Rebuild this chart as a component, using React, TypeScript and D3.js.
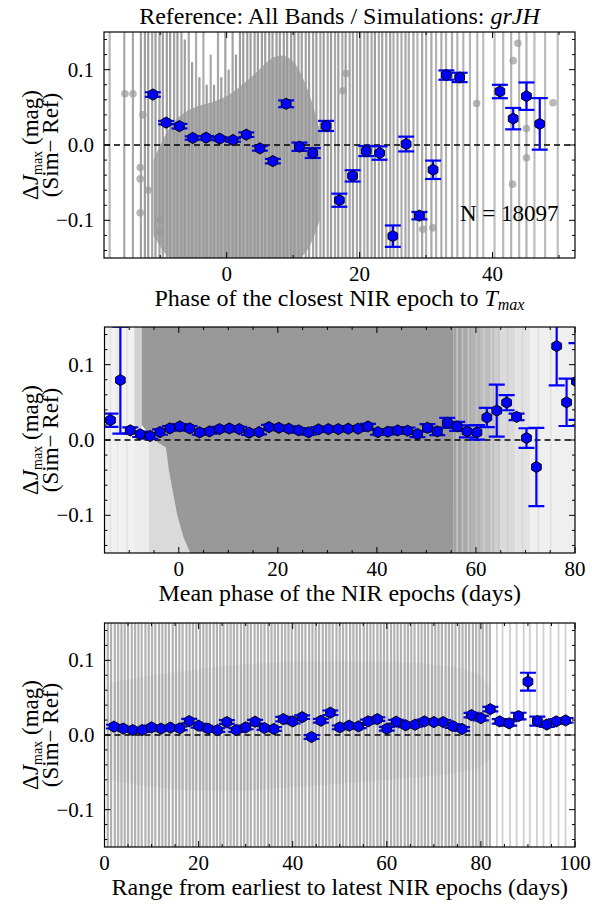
import React from 'react';
import * as d3 from 'd3';

const FONT = "'Liberation Serif', 'DejaVu Serif', serif";
const BLUE = '#0000ff';

// ---------- Panel 1: phase of closest NIR epoch ----------
const phaseX = [-11.1, -9.1, -7.1, -5.1, -3.1, -1.05, 0.95, 2.95, 5.0, 6.95, 8.95, 10.95, 12.95, 14.95, 16.95, 18.95, 21.0, 23.0, 25.0, 27.0, 29.0, 31.05, 33.05, 35.05, 41.1, 43.1, 45.1, 47.1];
const phaseY = [0.067, 0.0297, 0.025, 0.0093, 0.0097, 0.0084, 0.0066, 0.0137, -0.0045, -0.0214, 0.0547, -0.0023, -0.0107, 0.0253, -0.0733, -0.041, -0.008, -0.0107, -0.121, 0.0013, -0.0938, -0.0329, 0.0928, 0.0897, 0.071, 0.035, 0.0648, 0.028];
const phaseErr = [0.003, 0.0022, 0.003, 0.0022, 0.0022, 0.0022, 0.0022, 0.003, 0.003, 0.003, 0.0045, 0.0055, 0.0065, 0.0067, 0.0087, 0.0075, 0.0067, 0.0089, 0.0142, 0.0098, 0.0049, 0.0122, 0.0062, 0.0062, 0.0089, 0.0142, 0.0182, 0.0342];

// individual (gray) measurements, summarised as strands [x, top, opacity]
const phaseStrands: [number, number, number][] = [
  [-17.6, 0.2, 0.35], [-15.4, 0.2, 0.5], [-14.1, 0.2, 0.5], [-12.9, 0.2, 0.55], [-12.3, 0.2, 0.6],
  [-11.8, 0.2, 0.6], [-11.2, 0.2, 0.5], [-10.7, 0.2, 0.6], [-10.1, 0.2, 0.55], [-9.6, 0.2, 0.6],
  [-9.0, 0.2, 0.6], [-8.5, 0.2, 0.6], [-7.9, 0.2, 0.55], [-7.4, 0.2, 0.6], [-6.8, 0.2, 0.55],
  [-6.3, 0.14, 0.6], [-5.7, 0.2, 0.5], [-5.2, 0.11, 0.6], [-4.6, 0.2, 0.45], [-4.1, 0.09, 0.6],
  [-3.5, 0.2, 0.45], [-3.0, 0.08, 0.6], [-2.4, 0.12, 0.5], [-1.9, 0.08, 0.6], [-1.3, 0.2, 0.5],
  [-0.8, 0.09, 0.6], [-0.2, 0.2, 0.55], [0.3, 0.1, 0.6], [0.9, 0.2, 0.55], [1.4, 0.12, 0.6],
  [2.0, 0.2, 0.6], [2.5, 0.2, 0.6], [3.1, 0.2, 0.6], [3.6, 0.2, 0.6], [4.2, 0.2, 0.6],
  [4.7, 0.2, 0.6], [5.3, 0.2, 0.6], [5.8, 0.2, 0.6], [6.4, 0.2, 0.6], [6.9, 0.2, 0.6],
  [7.5, 0.2, 0.6], [8.0, 0.2, 0.6], [8.6, 0.2, 0.6], [9.1, 0.2, 0.6], [9.7, 0.2, 0.6],
  [10.2, 0.2, 0.6], [10.8, 0.2, 0.55], [11.3, 0.2, 0.6], [11.9, 0.2, 0.55], [12.4, 0.2, 0.6],
  [13.0, 0.2, 0.55], [13.5, 0.2, 0.6], [14.1, 0.2, 0.5], [14.6, 0.2, 0.6], [15.2, 0.2, 0.5],
  [15.7, 0.2, 0.6], [16.3, 0.2, 0.5], [16.8, 0.2, 0.6], [17.4, 0.2, 0.5], [17.9, 0.2, 0.6],
  [18.5, 0.2, 0.5], [19.0, 0.2, 0.55], [19.6, 0.2, 0.5], [20.1, 0.2, 0.6], [20.7, 0.2, 0.45],
  [21.2, 0.2, 0.55], [21.8, 0.2, 0.5], [22.3, 0.2, 0.6], [22.9, 0.2, 0.45], [23.4, 0.2, 0.55],
  [24.0, 0.2, 0.5], [24.6, 0.2, 0.55], [25.1, 0.2, 0.45], [25.7, 0.2, 0.5], [26.3, 0.2, 0.45],
  [26.9, 0.2, 0.5], [27.4, 0.2, 0.45], [28.1, 0.2, 0.5], [28.7, 0.2, 0.4], [29.4, 0.2, 0.5],
  [30.0, 0.2, 0.4], [30.8, 0.2, 0.5], [31.5, 0.2, 0.4], [32.3, 0.2, 0.45], [33.0, 0.2, 0.4],
  [33.9, 0.2, 0.45], [34.7, 0.2, 0.4], [35.6, 0.2, 0.4], [36.6, 0.2, 0.35], [37.7, 0.2, 0.35],
  [38.6, 0.2, 0.3], [40.3, 0.2, 0.3], [41.6, 0.2, 0.35], [42.8, 0.2, 0.4], [44.0, 0.2, 0.35],
  [45.1, 0.2, 0.4], [46.3, 0.2, 0.3], [47.9, 0.2, 0.3], [49.8, 0.2, 0.3],
];
// dense core of the gray cloud [x, low, high]
const phaseCore: [number, number, number][] = [
  [-11, -0.12, -0.02], [-9, -0.15, 0.02], [-7, -0.16, 0.04], [-5, -0.16, 0.05], [-3, -0.16, 0.055],
  [-1, -0.16, 0.06], [1, -0.16, 0.07], [3, -0.16, 0.085], [5, -0.16, 0.1], [7, -0.16, 0.12],
  [10, -0.16, 0.12], [12.5, -0.14, 0.07], [14, -0.1, 0.02],
];
const phaseDots: [number, number][] = [
  [-15.3, 0.068], [-14.1, 0.068], [-13, -0.03], [-13, -0.045], [-13, -0.09], [-10, -0.1], [-10, -0.115],
  [17.5, 0.072], [18, 0.095], [43.1, 0.112], [43.8, 0.135], [43, -0.052], [45.1, 0.022], [45.1, -0.017],
  [49.1, 0.056], [37.6, 0.055], [31, -0.11], [29.5, -0.112], [-12.6, 0.04], [-11.8, -0.06],
];

// ---------- Panel 2: mean phase ----------
const meanX = [-13.8, -11.8, -9.8, -7.8, -5.8, -3.8, -1.8, 0.2, 2.2, 4.2, 6.2, 8.2, 10.2, 12.2, 14.2, 16.2, 18.2, 20.2, 22.2, 24.2, 26.2, 28.2, 30.2, 32.2, 34.2, 36.2, 38.2, 40.2, 42.2, 44.2, 46.2, 48.2, 50.2, 52.2, 54.2, 56.2, 58.2, 60.2, 62.2, 64.2, 66.2, 68.2, 70.2, 72.2, 76.3, 78.3, 80.3];
const meanY = [0.0263, 0.0795, 0.0128, 0.0075, 0.0053, 0.0105, 0.0154, 0.018, 0.0154, 0.0101, 0.0114, 0.0145, 0.0154, 0.0145, 0.0097, 0.0105, 0.0171, 0.0162, 0.015, 0.0128, 0.0101, 0.0141, 0.0145, 0.0145, 0.015, 0.015, 0.018, 0.0105, 0.011, 0.0127, 0.0123, 0.0079, 0.0162, 0.0114, 0.0228, 0.018, 0.0114, 0.0101, 0.0299, 0.039, 0.0496, 0.0307, 0.0026, -0.0359, 0.1246, 0.05, 0.0777];
const meanErr = [0.0088, 0.071, 0.004, 0.0035, 0.0035, 0.0035, 0.003, 0.003, 0.003, 0.003, 0.003, 0.003, 0.003, 0.003, 0.003, 0.003, 0.003, 0.003, 0.003, 0.003, 0.003, 0.003, 0.003, 0.003, 0.003, 0.003, 0.0035, 0.0035, 0.0035, 0.004, 0.004, 0.004, 0.005, 0.005, 0.0066, 0.006, 0.008, 0.0097, 0.0127, 0.0346, 0.0101, 0.0044, 0.013, 0.052, 0.052, 0.0314, 0.051];
const meanCore: [number, number, number][] = [
  [-7.5, 0.02, 0.16], [-5, 0.0, 0.16], [-2.6, -0.01, 0.16], [-2, -0.04, 0.16], [-1.3, -0.065, 0.16],
  [-0.3, -0.1, 0.16], [1, -0.13, 0.16], [3, -0.16, 0.16], [55.5, -0.16, 0.16],
];
// shaded columns [x0, x1, low, high, colour]
const meanShade: [number, number, number, number, string][] = [
  [-15, -9, -0.16, 0.16, '#f1f1f1'], [-9, -7.5, 0.0, 0.16, '#d2d2d2'], [-9, -2.6, -0.16, 0.0, '#ececec'],
  [-6, 3, -0.16, 0.0, '#dadada'], [55.5, 57, -0.16, 0.16, '#a3a3a3'], [57, 59, -0.16, 0.16, '#aaaaaa'],
  [59, 61, -0.16, 0.16, '#b4b4b4'], [61, 63, -0.16, 0.16, '#bdbdbd'], [63, 65, -0.16, 0.16, '#cecece'],
  [65, 68, -0.16, 0.16, '#dadada'], [68, 71, -0.16, 0.16, '#e3e3e3'], [71, 81, -0.16, 0.16, '#efefef'],
];
const meanStrands: [number, string][] = [
  [-13.8, '#e2e2e2'], [-12.4, '#e6e6e6'], [-10.5, '#e0e0e0'], [56.2, '#c8c8c8'], [57.3, '#bcbcbc'],
  [58.5, '#cacaca'], [60.1, '#c4c4c4'], [61.6, '#d0d0d0'], [63.5, '#bbbbbb'], [64.6, '#c6c6c6'],
  [66.4, '#cfcfcf'], [69.4, '#d6d6d6'], [72.6, '#dcdcdc'], [75.1, '#e0e0e0'],
];

// ---------- Panel 3: range of NIR epochs ----------
const rangeX = [2, 4, 6, 8, 10, 12, 14, 16, 18, 20, 22, 24, 26, 28, 30, 32, 34, 36, 38, 40, 42, 44, 46, 48, 50, 52, 54, 56, 58, 60, 62, 64, 66, 68, 70, 72, 74, 76, 78, 80, 82, 84, 86, 88, 90, 92, 94, 96, 98];
const rangeY = [0.0112, 0.0085, 0.0066, 0.0066, 0.0102, 0.0085, 0.0098, 0.0089, 0.0186, 0.0125, 0.0085, 0.0066, 0.0173, 0.0066, 0.0102, 0.0178, 0.0093, 0.008, 0.0213, 0.0182, 0.0239, -0.0027, 0.0191, 0.0298, 0.0102, 0.0125, 0.0116, 0.0182, 0.0213, 0.0084, 0.0178, 0.013, 0.0137, 0.0182, 0.0173, 0.0173, 0.012, 0.008, 0.0266, 0.0226, 0.0346, 0.0182, 0.0155, 0.0253, 0.0714, 0.0186, 0.014, 0.0182, 0.0195];
const rangeErr = [0.0025, 0.0025, 0.0025, 0.0025, 0.0025, 0.0025, 0.0025, 0.0025, 0.003, 0.0025, 0.0025, 0.0025, 0.0025, 0.0025, 0.0025, 0.0025, 0.0025, 0.0025, 0.003, 0.0025, 0.0025, 0.0025, 0.0025, 0.003, 0.0025, 0.0025, 0.0025, 0.0025, 0.0025, 0.0025, 0.0025, 0.0025, 0.0025, 0.0025, 0.0025, 0.0025, 0.0025, 0.0025, 0.003, 0.003, 0.003, 0.003, 0.003, 0.0045, 0.012, 0.006, 0.003, 0.003, 0.003];
const rangeStrandX = [0.7, 1.4, 2.2, 2.9, 3.6, 4.3, 5.0, 5.8, 6.5, 7.2, 7.9, 8.7, 9.4, 10.1, 10.8, 11.6, 12.3, 13.0, 13.7, 14.5, 15.2, 15.9, 16.6, 17.4, 18.1, 18.8, 19.5, 20.3, 21.0, 21.7, 22.4, 23.2, 23.9, 24.6, 25.3, 26.1, 26.8, 27.5, 28.2, 29.0, 29.7, 30.4, 31.1, 31.9, 32.6, 33.3, 34.0, 34.8, 35.5, 36.2, 36.9, 37.7, 38.4, 39.1, 39.8, 40.6, 41.3, 42.0, 42.7, 43.5, 44.2, 44.9, 45.6, 46.4, 47.1, 47.8, 48.5, 49.3, 50.0, 50.7, 51.4, 52.2, 52.9, 53.6, 54.3, 55.1, 55.8, 56.5, 57.2, 58.0, 58.7, 59.4, 60.1, 60.9, 61.6, 62.3, 63.0, 63.8, 64.5, 65.2, 65.9, 66.7, 67.4, 68.1, 68.8, 69.6, 70.3, 71.0, 71.7, 72.5, 73.2, 73.9, 74.6, 75.4, 76.1, 76.8, 77.5, 78.3, 79.0, 79.7, 80.4, 81.2, 81.9];
const rangeSparseX = [83.4, 84.6, 86.2, 87.6, 89.1, 90.4, 91.9, 93.3, 94.8, 96.5, 98.0];
const rangeCore: [number, number, number][] = [
  [1, -0.06, 0.07], [20, -0.08, 0.09], [40, -0.07, 0.1], [60, -0.06, 0.1], [80, -0.05, 0.09], [82, -0.03, 0.06],
];

type Cfg = {
  left: number; right: number; top: number; bottom: number;
  xDomain: [number, number]; xMajor: number; xMinor: number;
  xs: number[]; ys: number[]; errs: number[];
  xlabel: React.ReactNode; id: string;
};

const hexPath = (r: number) => {
  const pts = d3.range(6).map((k) => {
    const a = (-90 + 60 * k) * Math.PI / 180;
    return [r * Math.cos(a), r * Math.sin(a)];
  });
  return 'M' + pts.map((p) => p.join(',')).join('L') + 'Z';
};

function Panel({ cfg, children }: { cfg: Cfg; children?: (x: any, y: any) => React.ReactNode }) {
  const { left, right, top, bottom } = cfg;
  const x = d3.scaleLinear().domain(cfg.xDomain).range([left, right]);
  const y = d3.scaleLinear().domain([-0.15, 0.15]).range([bottom, top]);
  const eps = 1e-9;
  const xMaj = d3.range(Math.ceil(cfg.xDomain[0] / cfg.xMajor) * cfg.xMajor, cfg.xDomain[1] + eps, cfg.xMajor);
  const xMin = d3.range(Math.ceil(cfg.xDomain[0] / cfg.xMinor) * cfg.xMinor, cfg.xDomain[1] + eps, cfg.xMinor)
    .filter((v) => !xMaj.some((m) => Math.abs(m - v) < 1e-6));
  const yMaj = [-0.1, 0, 0.1];
  const yMin = [-0.14, -0.12, -0.08, -0.06, -0.04, -0.02, 0.02, 0.04, 0.06, 0.08, 0.12, 0.14];
  const hp = hexPath(5.6);
  const midY = (top + bottom) / 2;
  return (
    <g>
      <defs>
        <clipPath id={'clip' + cfg.id}>
          <rect x={left} y={top} width={right - left} height={bottom - top} />
        </clipPath>
      </defs>
      <g clipPath={`url(#clip${cfg.id})`}>
        {children && children(x, y)}
        <line x1={left} x2={right} y1={y(0)} y2={y(0)} stroke="#000" strokeWidth={1.5} strokeDasharray="6,4" />
        {cfg.xs.map((xv, i) => (
          <g key={i} stroke={BLUE} strokeWidth={2.2}>
            <line x1={x(xv)} x2={x(xv)} y1={y(cfg.ys[i] - cfg.errs[i])} y2={y(cfg.ys[i] + cfg.errs[i])} />
            <line x1={x(xv) - 8} x2={x(xv) + 8} y1={y(cfg.ys[i] - cfg.errs[i])} y2={y(cfg.ys[i] - cfg.errs[i])} />
            <line x1={x(xv) - 8} x2={x(xv) + 8} y1={y(cfg.ys[i] + cfg.errs[i])} y2={y(cfg.ys[i] + cfg.errs[i])} />
          </g>
        ))}
        {cfg.xs.map((xv, i) => (
          <path key={'m' + i} d={hp} transform={`translate(${x(xv)},${y(cfg.ys[i])})`} fill={BLUE} stroke="#000" strokeWidth={1} />
        ))}
      </g>
      <rect x={left} y={top} width={right - left} height={bottom - top} fill="none" stroke="#000" strokeWidth={1.2} />
      {xMaj.map((v) => (
        <g key={'xM' + v} stroke="#000" strokeWidth={1}>
          <line x1={x(v)} x2={x(v)} y1={bottom} y2={bottom - 6} />
          <line x1={x(v)} x2={x(v)} y1={top} y2={top + 6} />
        </g>
      ))}
      {xMin.map((v) => (
        <g key={'xm' + v} stroke="#000" strokeWidth={1}>
          <line x1={x(v)} x2={x(v)} y1={bottom} y2={bottom - 3} />
          <line x1={x(v)} x2={x(v)} y1={top} y2={top + 3} />
        </g>
      ))}
      {yMaj.map((v) => (
        <g key={'yM' + v} stroke="#000" strokeWidth={1}>
          <line x1={left} x2={left + 6} y1={y(v)} y2={y(v)} />
          <line x1={right} x2={right - 6} y1={y(v)} y2={y(v)} />
        </g>
      ))}
      {yMin.map((v) => (
        <g key={'ym' + v} stroke="#000" strokeWidth={1}>
          <line x1={left} x2={left + 3} y1={y(v)} y2={y(v)} />
          <line x1={right} x2={right - 3} y1={y(v)} y2={y(v)} />
        </g>
      ))}
      <g fontFamily={FONT} fontSize={21} fill="#000">
        {xMaj.map((v) => (
          <text key={'xl' + v} x={x(v)} y={bottom + 23} textAnchor="middle">{String(v)}</text>
        ))}
        {yMaj.map((v) => (
          <text key={'yl' + v} x={left - 10} y={y(v) + 7} textAnchor="end">{v === 0 ? '0.0' : v > 0 ? '0.1' : '\u22120.1'}</text>
        ))}
      </g>
      <text x={(left + right) / 2} y={bottom + 48} textAnchor="middle" fontFamily={FONT} fontSize={24}>{cfg.xlabel}</text>
      <g fontFamily={FONT} fontSize={23}>
        <text transform={`translate(38,${midY}) rotate(-90)`} textAnchor="middle">
          <tspan>Δ</tspan><tspan fontStyle="italic">J</tspan><tspan fontSize={14} dy={4}>max</tspan><tspan dy={-4}> (mag)</tspan>
        </text>
        <text transform={`translate(58,${midY}) rotate(-90)`} textAnchor="middle">(Sim− Ref)</text>
      </g>
    </g>
  );
}

export default function App() {
  const p1: Cfg = {
    left: 104, right: 575, top: 32, bottom: 258, xDomain: [-18.45, 52.4], xMajor: 20, xMinor: 10,
    xs: phaseX, ys: phaseY, errs: phaseErr, id: 'p1',
    xlabel: (<><tspan>Phase of the closest NIR epoch to </tspan><tspan fontStyle="italic">T</tspan><tspan fontStyle="italic" fontSize={16} dy={4}>max</tspan></>),
  };
  const p2: Cfg = {
    left: 104.5, right: 575, top: 327, bottom: 553, xDomain: [-15, 80], xMajor: 20, xMinor: 5,
    xs: meanX, ys: meanY, errs: meanErr, id: 'p2', xlabel: 'Mean phase of the NIR epochs (days)',
  };
  const p3: Cfg = {
    left: 104.5, right: 575, top: 623, bottom: 847, xDomain: [0, 100], xMajor: 20, xMinor: 5,
    xs: rangeX, ys: rangeY, errs: rangeErr, id: 'p3', xlabel: 'Range from earliest to latest NIR epochs (days)',
  };
  const area = (x: any, y: any) => d3.area<[number, number, number]>()
    .x((d) => x(d[0])).y0((d) => y(d[1])).y1((d) => y(d[2]));
  return (
    <svg width={592} height={907} style={{ display: 'block', position: 'absolute', left: 0, top: 0, background: '#fff' }}>
      <rect width={592} height={907} fill="#fff" />
      <text x={339.5} y={24} textAnchor="middle" fontFamily={FONT} fontSize={24}>
        <tspan>Reference: All Bands / Simulations: </tspan><tspan fontStyle="italic">grJH</tspan>
      </text>
      <Panel cfg={p1}>
        {(x, y) => (
          <g>
            <path d={area(x, y).curve(d3.curveBasis)(phaseCore) || ''} fill="#a2a2a2" fillOpacity={0.85} />
            {phaseStrands.map(([xv, hi, op], i) => (
              <line key={i} x1={x(xv)} x2={x(xv)} y1={y(-0.2)} y2={y(hi)} stroke="#999999" strokeOpacity={Math.min(1, op + 0.35)} strokeWidth={2.2} />
            ))}
            {phaseDots.map(([xv, yv], i) => (
              <circle key={'d' + i} cx={x(xv)} cy={y(yv)} r={3.8} fill="#999999" fillOpacity={0.7} />
            ))}
          </g>
        )}
      </Panel>
      <Panel cfg={p2}>
        {(x, y) => (
          <g>
            {meanShade.map(([x0, x1, lo, hi, c], i) => (
              <rect key={i} x={x(x0)} width={x(x1) - x(x0)} y={y(hi)} height={y(lo) - y(hi)} fill={c} />
            ))}
            <path d={area(x, y)(meanCore) || ''} fill="#999999" />
            {meanStrands.map(([xv, c], i) => (
              <line key={'s' + i} x1={x(xv)} x2={x(xv)} y1={y(-0.2)} y2={y(0.2)} stroke={c} strokeWidth={1.5} />
            ))}
          </g>
        )}
      </Panel>
      <Panel cfg={p3}>
        {(x, y) => (
          <g>
            {rangeStrandX.map((xv, i) => (
              <line key={i} x1={x(xv)} x2={x(xv)} y1={y(-0.2)} y2={y(0.2)} stroke="#a4a4a4" strokeOpacity={0.85} strokeWidth={2.2} />
            ))}
            {rangeSparseX.map((xv, i) => (
              <line key={'sp' + i} x1={x(xv)} x2={x(xv)} y1={y(-0.2)} y2={y(0.2)} stroke="#c4c4c4" strokeOpacity={0.8} strokeWidth={1.8} />
            ))}
            <path d={area(x, y).curve(d3.curveBasis)(rangeCore) || ''} fill="#909090" fillOpacity={0.12} />
          </g>
        )}
      </Panel>
      <text x={460} y={221} fontFamily={FONT} fontSize={23}>N = 18097</text>
    </svg>
  );
}
